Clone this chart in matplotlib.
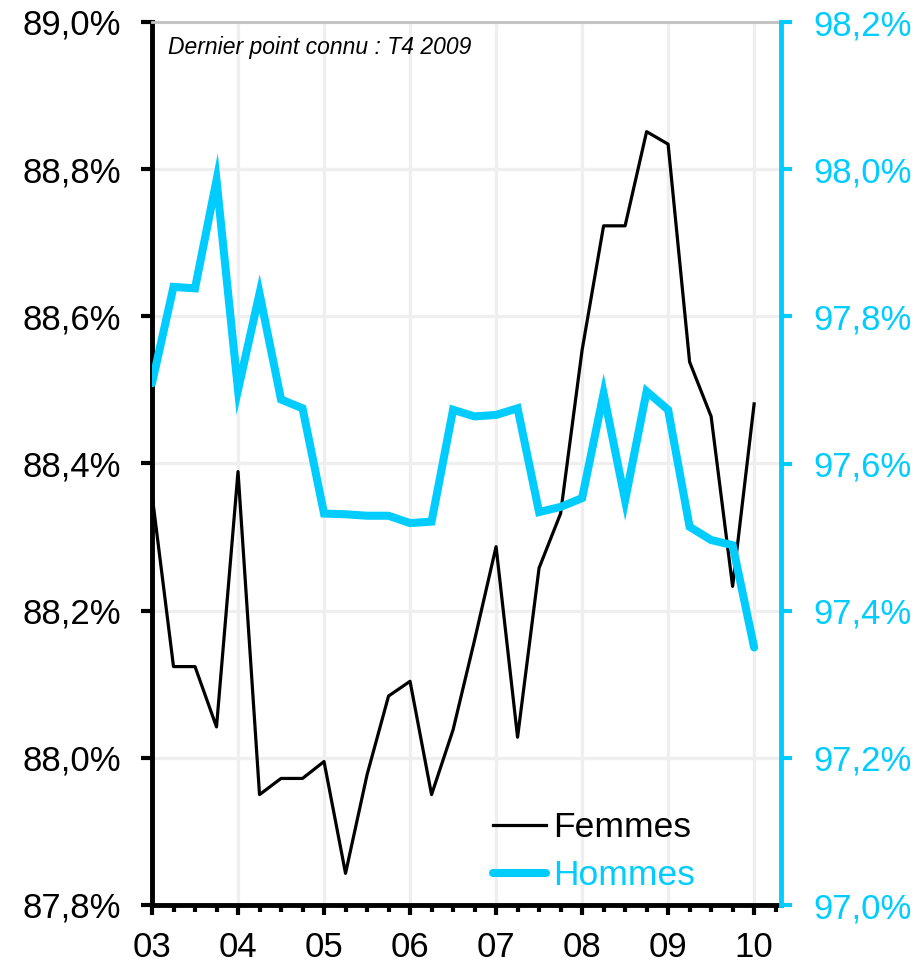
"""Taux d'emploi femmes / hommes, deux axes, trimestriel 2003-2010."""
import matplotlib
matplotlib.use("Agg")
import matplotlib.pyplot as plt
from matplotlib.ticker import FixedLocator, FuncFormatter

# quarterly points, first = 03, last known = T4 2009
femmes = [88.358, 88.124, 88.124, 88.042, 88.389, 87.950, 87.972, 87.972,
          87.995, 87.843, 87.977, 88.084, 88.104, 87.950, 88.038, 88.160,
          88.287, 88.028, 88.258, 88.332, 88.554, 88.723, 88.723, 88.851,
          88.834, 88.538, 88.464, 88.233, 88.481]
hommes = [97.709, 97.840, 97.838, 97.985, 97.700, 97.831, 97.687, 97.675,
          97.532, 97.531, 97.529, 97.529, 97.519, 97.521, 97.673, 97.664,
          97.666, 97.675, 97.534, 97.541, 97.553, 97.695, 97.550, 97.698,
          97.673, 97.514, 97.496, 97.489, 97.350]
year_labels = ["03", "04", "05", "06", "07", "08", "09", "10"]
left_ticks = [87.8, 88.0, 88.2, 88.4, 88.6, 88.8, 89.0]
right_ticks = [97.0, 97.2, 97.4, 97.6, 97.8, 98.0, 98.2]

CYAN = "#00ccff"
plt.rcParams["font.family"] = ["Liberation Sans", "DejaVu Sans"]

fig = plt.figure(figsize=(9.18, 9.65), dpi=100)
ax = fig.add_axes([152 / 918, 1 - 905 / 965, 629 / 918, 883 / 965])
ax2 = ax.twinx()

x = list(range(len(femmes)))
l1, = ax.plot(x, femmes, color="black", lw=2.3, label="Femmes", zorder=3)
l2, = ax2.plot(x, hommes, color=CYAN, lw=5.8, label="Hommes",
               solid_capstyle="round", solid_joinstyle="miter", zorder=3)

ax.set_xlim(0, 29.25)
ax.set_ylim(87.8, 89.0)
ax2.set_ylim(97.0, 98.2)

pct = FuncFormatter(lambda v, _: f"{v:.1f}%".replace(".", ","))
ax.yaxis.set_major_locator(FixedLocator(left_ticks))
ax.yaxis.set_major_formatter(pct)
ax2.yaxis.set_major_locator(FixedLocator(right_ticks))
ax2.yaxis.set_major_formatter(pct)

ax.xaxis.set_major_locator(FixedLocator(range(0, 29, 4)))
ax.xaxis.set_minor_locator(FixedLocator(range(0, 30)))
ax.set_xticklabels(year_labels)

ax.grid(True, which="major", color="#efefef", lw=2.4, zorder=0)
ax.set_axisbelow(True)

for s in ("left", "bottom"):
    ax.spines[s].set_linewidth(3.5)
    ax.spines[s].set_color("black")
ax.spines["top"].set_color("#c0c0c0")
ax.spines["top"].set_linewidth(2)
ax.spines["right"].set_visible(False)
ax2.spines["left"].set_visible(False)
ax2.spines["top"].set_visible(False)
ax2.spines["bottom"].set_visible(False)
ax2.spines["right"].set_color(CYAN)
ax2.spines["right"].set_linewidth(3.5)

ax.tick_params(axis="y", direction="out", length=8, width=3, pad=14,
               labelsize=25, colors="black")
ax.tick_params(axis="x", which="major", direction="out", length=7, width=3,
               pad=12, labelsize=25)
ax.tick_params(axis="x", which="minor", direction="out", length=5, width=3)
ax2.tick_params(axis="y", direction="out", length=8, width=3, pad=15,
                labelsize=25, colors=CYAN)

ax.text(0.025, 0.971, "Dernier point connu : T4 2009", transform=ax.transAxes,
        fontsize=16.5, style="italic", va="center", ha="left")

leg = ax2.legend(handles=[l1, l2], loc="upper left",
                 bbox_to_anchor=(0.542, 0.106), frameon=False, fontsize=25.5,
                 handlelength=1.5, handletextpad=0.2, labelspacing=0.42,
                 borderpad=0, borderaxespad=0)
for txt, col in zip(leg.get_texts(), ["black", CYAN]):
    txt.set_color(col)

fig.savefig("out.png", dpi=100)
